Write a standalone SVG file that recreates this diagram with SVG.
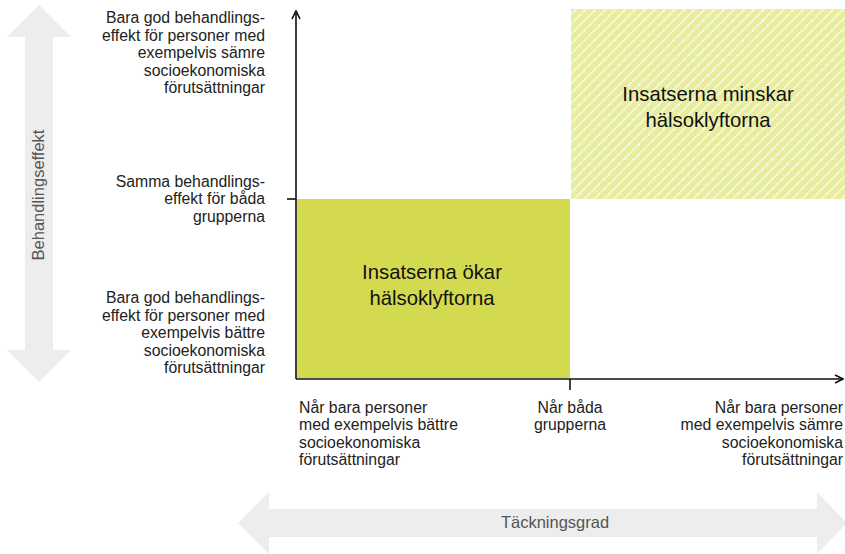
<svg xmlns="http://www.w3.org/2000/svg" width="845" height="554" viewBox="0 0 845 554">
  <style>
    .lbl { font-family: "Liberation Sans", Arial, sans-serif; font-size: 15.8px; fill: #222; }
    .r { text-anchor: end; }
    .c { text-anchor: middle; }
    .box { font-family: "Liberation Sans", Arial, sans-serif; font-size: 20.3px; fill: #111; text-anchor: middle; }
    .grey { font-family: "Liberation Sans", Arial, sans-serif; font-size: 16.5px; fill: #555; text-anchor: middle; }
    .axis { stroke: #111; stroke-width: 1.6; fill: none; }
  </style>
  <defs>
    <pattern id="hatch" patternUnits="userSpaceOnUse" width="7" height="7" patternTransform="rotate(45)">
      <rect width="7" height="7" fill="#e8ed9d"/>
      <line x1="0.8" y1="0" x2="0.8" y2="7" stroke="#ffffff" stroke-width="1.4" stroke-dasharray="2 0.8"/>
    </pattern>
    <marker id="open" viewBox="0 0 10 10" refX="9" refY="5" markerWidth="10" markerHeight="10" markerUnits="userSpaceOnUse" orient="auto">
      <path d="M1,1 L9,5 L1,9" fill="none" stroke="#111" stroke-width="1.6"/>
    </marker>
  </defs>

  <rect width="845" height="554" fill="#ffffff"/>

  <!-- vertical scale arrow -->
  <g id="behandlingseffekt">
    <path d="M39,5 L71,37 L53,37 L53,350 L71,350 L39,382 L7,350 L25,350 L25,37 L7,37 Z" fill="#ededed"/>
    <text class="grey" transform="translate(44,195) rotate(-90)">Behandlingseffekt</text>
  </g>

  <!-- horizontal scale arrow -->
  <g id="tackningsgrad">
    <path d="M238,523 L269,492 L269,509 L817,509 L817,492 L845,521 L845,525 L817,554 L817,537 L269,537 L269,554 Z" fill="#ededed"/>
    <text class="grey" x="555" y="528">Täckningsgrad</text>
  </g>

  <!-- quadrants -->
  <g id="okar">
    <rect x="297" y="199" width="273" height="179" fill="#d4da4f"/>
    <text class="box" x="432" y="279">Insatserna ökar</text>
    <text class="box" x="432" y="305">hälsoklyftorna</text>
  </g>
  <g id="minskar">
    <rect x="571" y="9" width="274" height="190" fill="url(#hatch)"/>
    <text class="box" x="708" y="101">Insatserna minskar</text>
    <text class="box" x="708" y="127">hälsoklyftorna</text>
  </g>

  <!-- axes and ticks -->
  <g id="connectors">
    <line class="axis" x1="296" y1="379" x2="296" y2="11" marker-end="url(#open)"/>
    <line class="axis" x1="296" y1="379" x2="843" y2="379" marker-end="url(#open)"/>
    <line class="axis" x1="287" y1="199" x2="296" y2="199"/>
    <line class="axis" x1="570" y1="379" x2="570" y2="390"/>
  </g>

  <!-- y-axis labels -->
  <g id="y-top">
    <text class="lbl r" x="265" y="23">Bara god behandlings-</text>
    <text class="lbl r" x="265" y="41">effekt för personer med</text>
    <text class="lbl r" x="265" y="58">exempelvis sämre</text>
    <text class="lbl r" x="265" y="76">socioekonomiska</text>
    <text class="lbl r" x="265" y="93">förutsättningar</text>
  </g>
  <g id="y-mid">
    <text class="lbl r" x="265" y="187">Samma behandlings-</text>
    <text class="lbl r" x="265" y="204">effekt för båda</text>
    <text class="lbl r" x="265" y="222">grupperna</text>
  </g>
  <g id="y-bottom">
    <text class="lbl r" x="265" y="303">Bara god behandlings-</text>
    <text class="lbl r" x="265" y="321">effekt för personer med</text>
    <text class="lbl r" x="265" y="338">exempelvis bättre</text>
    <text class="lbl r" x="265" y="356">socioekonomiska</text>
    <text class="lbl r" x="265" y="373">förutsättningar</text>
  </g>

  <!-- x-axis labels -->
  <g id="x-left">
    <text class="lbl" x="299" y="413">Når bara personer</text>
    <text class="lbl" x="299" y="430">med exempelvis bättre</text>
    <text class="lbl" x="299" y="448">socioekonomiska</text>
    <text class="lbl" x="299" y="465">förutsättningar</text>
  </g>
  <g id="x-mid">
    <text class="lbl c" x="570" y="413">Når båda</text>
    <text class="lbl c" x="570" y="430">grupperna</text>
  </g>
  <g id="x-right">
    <text class="lbl r" x="843" y="413">Når bara personer</text>
    <text class="lbl r" x="843" y="430">med exempelvis sämre</text>
    <text class="lbl r" x="843" y="448">socioekonomiska</text>
    <text class="lbl r" x="843" y="465">förutsättningar</text>
  </g>
</svg>
